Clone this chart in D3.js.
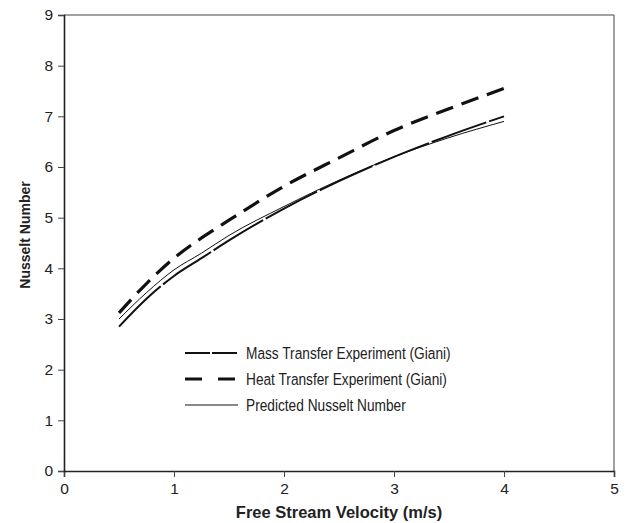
<!DOCTYPE html>
<html lang='en'>
  <head>
    <meta charset='utf-8'>
    <title>Nusselt Number</title>
    <script type='text/javascript' src='https://cdn.jsdelivr.net/npm/d3@7/dist/d3.min.js'></script>
    <style type='text/css'>
      body { margin: 0; background: white; font-family: 'Liberation Sans', Arial, sans-serif; }
      svg { background-color: white; }
      .tick text { fill: #222; }
    </style>
  </head>
  <body>
    <div id='chart'></div>
    <script type='text/javascript'>

    // Data
    var velocity = [0.5, 0.75, 1, 1.25, 1.5, 2, 2.5, 3, 3.5, 4];
    var massTransfer = [2.85, 3.4, 3.85, 4.2, 4.55, 5.18, 5.72, 6.2, 6.62, 7.0];
    var heatTransfer = [3.12, 3.7, 4.2, 4.6, 4.95, 5.62, 6.18, 6.72, 7.15, 7.55];
    var predicted = [3.0, 3.52, 3.97, 4.3, 4.65, 5.22, 5.74, 6.2, 6.58, 6.9];
    var xTicks = [0, 1, 2, 3, 4, 5];
    var yTicks = [0, 1, 2, 3, 4, 5, 6, 7, 8, 9];
    var seriesNames = ['Mass Transfer Experiment (Giani)', 'Heat Transfer Experiment (Giani)', 'Predicted Nusselt Number'];

    var margin = { top: 15, right: 13, bottom: 52, left: 64 },
        width = 627 - margin.left - margin.right,
        height = 523 - margin.top - margin.bottom;

    var svg = d3.select('#chart')
        .append('svg')
        .attr('width', 627)
        .attr('height', 523)
        .append('g')
        .attr('transform', 'translate(' + margin.left + ',' + margin.top + ')');

    var xScale = d3.scaleLinear().domain([0, 5]).range([0, width]);
    var yScale = d3.scaleLinear().domain([0, 9]).range([height, 0]);

    // frame (top and right)
    svg.append('path')
      .attr('d', 'M0,0H' + width + 'V' + height)
      .attr('fill', 'none')
      .attr('stroke', '#444')
      .attr('stroke-width', 1);

    var xAxis = d3.axisBottom(xScale).tickValues(xTicks).tickSize(6).tickPadding(6).tickFormat(d3.format('d'));
    var yAxis = d3.axisLeft(yScale).tickValues(yTicks).tickSize(6).tickPadding(5).tickFormat(d3.format('d'));

    var gx = svg.append('g')
      .attr('transform', 'translate(0,' + height + ')')
      .call(xAxis);
    var gy = svg.append('g').call(yAxis);

    [gx, gy].forEach(function(g) {
      g.select('.domain').attr('stroke', '#222').attr('stroke-width', 1.6);
      g.selectAll('.tick line').attr('stroke', '#444');
      g.selectAll('.tick text').attr('font-size', 15.5).attr('font-family', "'Liberation Sans', Arial, sans-serif");
    });

    // axis titles
    svg.append('text')
      .attr('x', width / 2)
      .attr('y', height + 47)
      .attr('text-anchor', 'middle')
      .attr('font-size', 16.5)
      .attr('font-weight', 'bold')
      .attr('fill', '#222')
      .text('Free Stream Velocity (m/s)');

    svg.append('text')
      .attr('transform', 'rotate(-90)')
      .attr('x', -220)
      .attr('y', -34)
      .attr('text-anchor', 'middle')
      .attr('font-size', 14)
      .attr('font-weight', 'bold')
      .attr('fill', '#222')
      .text('Nusselt Number');

    // lines
    var styles = [
      { data: massTransfer, width: 2, dash: '58,3', legendDash: '25,2' },
      { data: heatTransfer, width: 3.2, dash: '18,9', legendDash: '17,16' },
      { data: predicted, width: 1, dash: null, legendDash: null }
    ];

    var line = d3.line()
      .x(function(d, i) { return xScale(velocity[i]); })
      .y(function(d) { return yScale(d); })
      .curve(d3.curveMonotoneX);

    styles.forEach(function(s) {
      svg.append('path')
        .attr('d', line(s.data))
        .attr('fill', 'none')
        .attr('stroke', '#111')
        .attr('stroke-width', s.width)
        .attr('stroke-dasharray', s.dash);
    });

    // legend
    var legend = svg.append('g').attr('transform', 'translate(121,338)');
    styles.forEach(function(s, i) {
      var ly = i * 26;
      legend.append('line')
        .attr('x1', 0).attr('x2', 53)
        .attr('y1', ly).attr('y2', ly)
        .attr('stroke', '#111')
        .attr('stroke-width', s.width)
        .attr('stroke-dasharray', s.legendDash);
      legend.append('text')
        .attr('transform', 'translate(61,' + (ly + 6) + ') scale(0.83,1)')
        .attr('font-size', 16.5)
        .attr('fill', '#222')
        .text(seriesNames[i]);
    });

    </script>
  </body>
</html>
